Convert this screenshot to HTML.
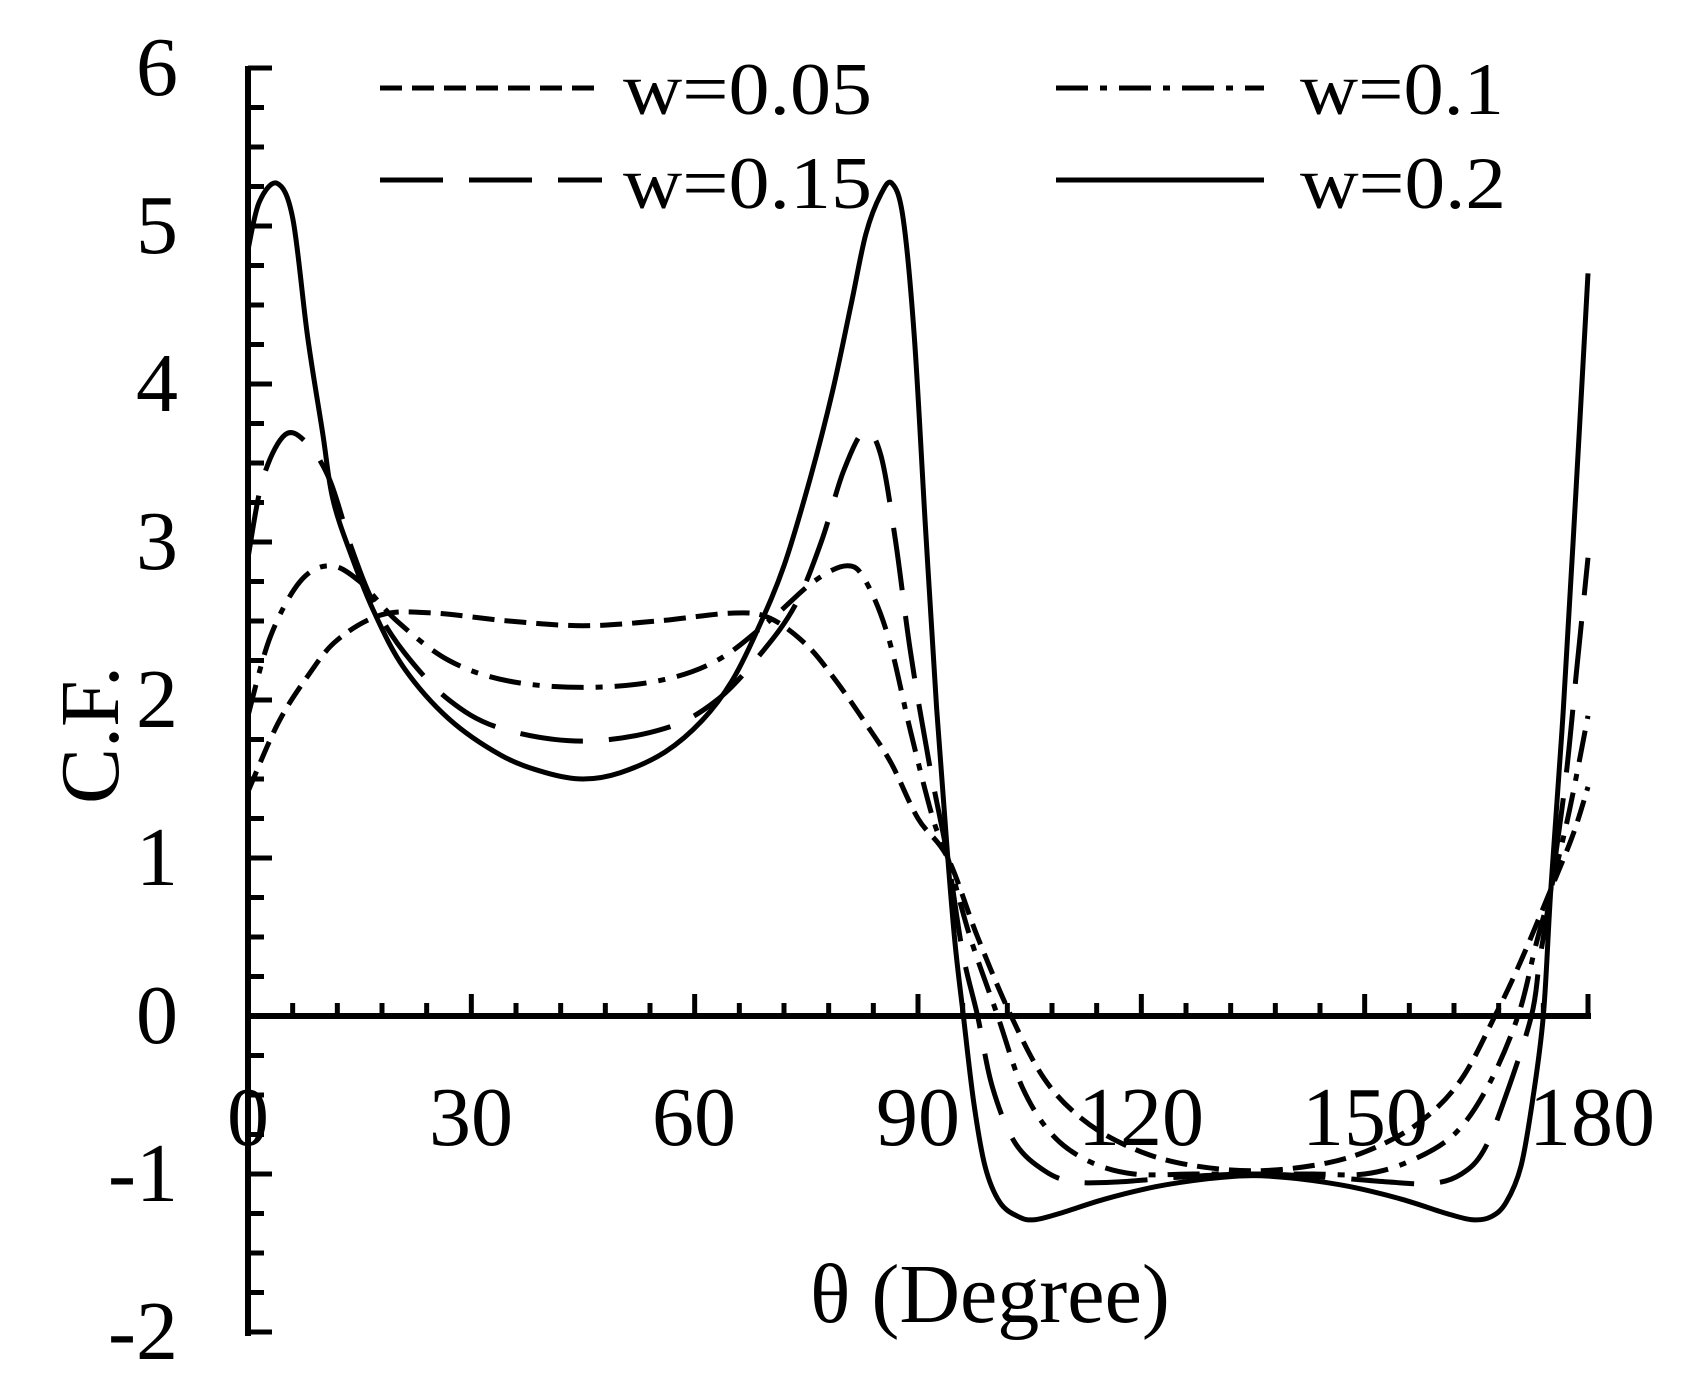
<!DOCTYPE html>
<html><head><meta charset="utf-8">
<style>
html,body{margin:0;padding:0;background:#fff;}
svg{display:block;}
text{font-family:"Liberation Serif",serif;fill:#000;}
</style></head>
<body>
<svg id="s" width="1689" height="1393" viewBox="0 0 1689 1393" xmlns="http://www.w3.org/2000/svg">
<rect width="1689" height="1393" fill="#fff"/>
<g id="axes" stroke="#000" fill="none"></g>
<g id="curves" fill="none" stroke="#000" stroke-width="5" stroke-linejoin="round"></g>
<g font-size="84">
<text x="178" y="95" text-anchor="end">6</text>
<text x="178" y="253" text-anchor="end">5</text>
<text x="178" y="411" text-anchor="end">4</text>
<text x="178" y="569" text-anchor="end">3</text>
<text x="178" y="727" text-anchor="end">2</text>
<text x="178" y="885" text-anchor="end">1</text>
<text x="178" y="1043" text-anchor="end">0</text>
<text x="178" y="1201" text-anchor="end">-1</text>
<text x="178" y="1359" text-anchor="end">-2</text>
<text x="248" y="1145" text-anchor="middle">0</text>
<text x="471" y="1145" text-anchor="middle">30</text>
<text x="694" y="1145" text-anchor="middle">60</text>
<text x="918" y="1145" text-anchor="middle">90</text>
<text x="1141" y="1145" text-anchor="middle">120</text>
<text x="1365" y="1145" text-anchor="middle">150</text>
<text x="1592" y="1145" text-anchor="middle">180</text>
<text transform="translate(118,735) rotate(-90)" text-anchor="middle">C.F.</text>
<text x="990" y="1322" text-anchor="middle">θ (Degree)</text>
</g>
<g font-size="74">
<text x="623" y="114" textLength="249" lengthAdjust="spacingAndGlyphs">w=0.05</text>
<text x="1300" y="114" textLength="204" lengthAdjust="spacingAndGlyphs">w=0.1</text>
<text x="623" y="208" textLength="249" lengthAdjust="spacingAndGlyphs">w=0.15</text>
<text x="1300" y="208" textLength="206" lengthAdjust="spacingAndGlyphs">w=0.2</text>
</g>
<g stroke="#000" stroke-width="5">
<line x1="380" y1="88" x2="602" y2="88" stroke-dasharray="22 10"/>
<line x1="1056" y1="88" x2="1264" y2="88" stroke-dasharray="32 12 7 12"/>
<line x1="380" y1="180" x2="602" y2="180" stroke-dasharray="63 26"/>
<line x1="1056" y1="180" x2="1264" y2="180"/>
</g>
</svg>
<script>
var X=function(t){return 248+t*1340/180;}, Y=function(v){return 1016-158*v;};
var ns="http://www.w3.org/2000/svg";
var ax=document.getElementById('axes');
function ln(x1,y1,x2,y2,w){var l=document.createElementNS(ns,'line');l.setAttribute('x1',x1);l.setAttribute('y1',y1);l.setAttribute('x2',x2);l.setAttribute('y2',y2);l.setAttribute('stroke-width',w);ax.appendChild(l);}
ln(248,66,248,1336,6);
ln(245,1016,1591,1016,6);
for(var i=0;i<=32;i++){var v=6-i*0.25;var y=Y(v);var maj=(i%4==0);ln(248,y,maj?272:264,y,5);}
for(var i=1;i<=30;i++){var x=X(i*6);var maj=(i%5==0);ln(x,1016,x,maj?994:1003,5);}
var data={
s:[[0,4.85],[1.5,5.15],[3.9,5.27],[6,5.05],[8,4.3],[10,3.7],[11.4,3.27],[14,2.9],[17,2.55],[21,2.2],[27,1.88],[34,1.65],[40,1.54],[45,1.5],[50,1.54],[56,1.67],[61,1.87],[65,2.12],[68.5,2.45],[72,2.85],[75.5,3.4],[78.5,3.95],[81,4.5],[83,4.95],[85,5.2],[86.5,5.27],[88,5.05],[89.5,4.3],[91,3.1],[92.5,1.95],[94,1.0],[95,0.45],[96.1,0],[97.5,-0.55],[99,-0.95],[101,-1.18],[103.5,-1.27],[105.6,-1.29],[109,-1.25],[115,-1.16],[122,-1.08],[129,-1.03],[135,-1.01],[141,-1.03],[148,-1.08],[155,-1.16],[161,-1.25],[164.5,-1.29],[167,-1.27],[169,-1.18],[171,-0.95],[172.5,-0.55],[174,0],[175,0.8],[176.5,1.8],[178,3.0],[180,4.7]],
l:[[0,2.9],[2,3.4],[5,3.68],[8,3.62],[11,3.39],[14,2.95],[17,2.6],[21,2.3],[27,2.0],[34,1.82],[45,1.74],[56,1.82],[63,2.0],[69,2.3],[73.5,2.6],[77,3.0],[80,3.45],[82.8,3.7],[85,3.55],[87,3.0],[89,2.3],[91.5,1.6],[94,1.0],[96,0.4],[98,0],[100,-0.45],[103,-0.8],[107,-0.98],[111,-1.05],[117,-1.05],[125,-1.02],[135,-1.0],[145,-1.02],[153,-1.05],[159,-1.06],[163,-1.0],[166,-0.85],[169,-0.5],[172.4,0],[173.5,0.35],[175,0.8],[177,1.5],[178.5,2.2],[180,2.9]],
d:[[0,1.9],[3,2.4],[7,2.75],[11,2.85],[15,2.75],[20,2.5],[27,2.25],[35,2.12],[45,2.08],[55,2.12],[63,2.25],[70,2.5],[76,2.75],[80.5,2.85],[83,2.75],[86,2.4],[89,1.8],[92,1.25],[94,1.0],[97,0.5],[100.7,0],[104,-0.45],[108,-0.75],[113,-0.92],[119,-1.0],[127,-1.0],[135,-1.0],[143,-1.0],[150,-1.0],[156,-0.92],[162,-0.75],[166.5,-0.45],[170.6,0],[173,0.45],[175,0.8],[177.5,1.3],[180,1.9]],
h:[[0,1.42],[4,1.85],[8,2.15],[12,2.38],[18,2.54],[25,2.55],[35,2.5],[45,2.47],[55,2.5],[65,2.55],[70,2.52],[75,2.35],[79,2.12],[83,1.85],[86.4,1.6],[90,1.25],[94,1.0],[98,0.5],[102.5,0],[107,-0.4],[112,-0.65],[118,-0.82],[125,-0.93],[135,-0.98],[145,-0.93],[152,-0.82],[158,-0.65],[163,-0.4],[167.5,0],[171,0.35],[175,0.8],[178,1.15],[180,1.45]]};
var dash={s:null,l:"63 26",d:"32 12 7 12",h:"22 10"};
var cg=document.getElementById('curves');
['h','d','l','s'].forEach(function(k){
 var p=data[k].map(function(a){return [X(a[0]),Y(a[1])];});
 var d="M"+p[0][0].toFixed(1)+" "+p[0][1].toFixed(1);
 for(var i=0;i<p.length-1;i++){
  var p0=p[Math.max(i-1,0)],p1=p[i],p2=p[i+1],p3=p[Math.min(i+2,p.length-1)];
  var c1=[p1[0]+(p2[0]-p0[0])/6,p1[1]+(p2[1]-p0[1])/6];
  var c2=[p2[0]-(p3[0]-p1[0])/6,p2[1]-(p3[1]-p1[1])/6];
  d+="C"+c1[0].toFixed(1)+" "+c1[1].toFixed(1)+" "+c2[0].toFixed(1)+" "+c2[1].toFixed(1)+" "+p2[0].toFixed(1)+" "+p2[1].toFixed(1);
 }
 var e=document.createElementNS(ns,'path');e.setAttribute('d',d);
 if(dash[k])e.setAttribute('stroke-dasharray',dash[k]);
 cg.appendChild(e);
});
</script>
</body></html>
